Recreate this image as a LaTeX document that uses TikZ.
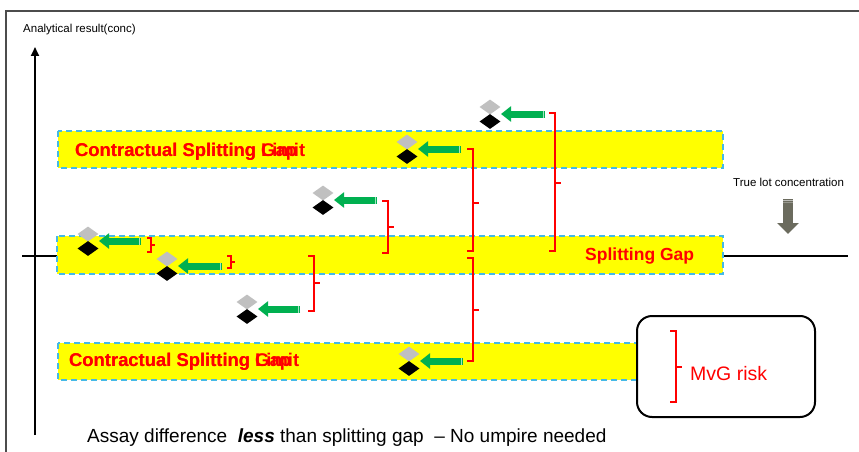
\documentclass[tikz,border=0pt]{standalone}
\usepackage{fontspec}
\setmainfont{Liberation Sans}
\usetikzlibrary{arrows.meta,shapes.geometric}
\definecolor{bandyellow}{HTML}{FFFF00}
\definecolor{bandblue}{HTML}{45B9E6}
\definecolor{arrgreen}{HTML}{00B050}
\definecolor{diagray}{HTML}{C0C0C0}
\definecolor{truegray}{HTML}{6B6B5E}
\definecolor{brred}{HTML}{FF0000}
\newcommand\redbracket[5]{%
  \draw[bracketline] (#1-#5,#2) -- (#1,#2) -- (#1,#3) -- (#1-#5,#3) (#1,#4) -- (#1+#5,#4);}
\begin{document}
\begin{tikzpicture}[x=1pt,y=-1pt,
  band/.style={fill=bandyellow, draw=bandblue, line width=1.3pt, dash pattern=on 6pt off 4pt},
  redtxt/.style={text=brred, font=\bfseries\fontsize{18.4}{20}\selectfont, anchor=base west, inner sep=0pt},
  smalltxt/.style={text=black, font=\fontsize{11.5}{13}\selectfont, anchor=base west, inner sep=0pt},
  graydia/.style={diamond, fill=diagray, minimum width=21pt, minimum height=15pt, inner sep=0pt},
  blackdia/.style={diamond, fill=black, minimum width=21pt, minimum height=15pt, inner sep=0pt},
  greenarr/.style={draw=arrgreen, line width=7pt, -{Triangle[length=10pt,width=15pt]}},
  bracketline/.style={draw=brred, line width=2.8pt},
  axisline/.style={draw=black, line width=2.2pt}
]
\useasboundingbox (0,0) rectangle (859,452);
% frame
\draw[line width=1.2pt, black!70] (6,452) -- (6,11) -- (859,11);
% axes
\coordinate (yb) at (35,435);
\coordinate (yt) at (35,47);
\draw[axisline, -{Triangle[length=9pt,width=8pt]}] (yb) -- (yt);
\coordinate (xl) at (22,256);
\coordinate (xr) at (848,256);
\draw[axisline] (xl) -- (xr);
\node[smalltxt] (ylab) at (23,33) {Analytical result(conc)};
% bands
\path[band] (58,131) rectangle (723,168);
\path[band] (57,236) rectangle (723,274);
\path[band] (58,343) rectangle (637,380);
% band texts
\node[redtxt] (lim1) at (75,156) {Contractual Splitting Limit};
\node[redtxt] (gap1) at (75,156) {Contractual Splitting Gap};
\node[redtxt] (lim2) at (69,366) {Contractual Splitting Limit};
\node[redtxt] (gap2) at (69,366) {Contractual Splitting Gap};
\node[redtxt, font=\bfseries\fontsize{17.5}{20}\selectfont] (sg) at (585,260) {Splitting Gap};
% true lot concentration
\node[smalltxt] (tlc) at (733,186) {True lot concentration};
\coordinate (ta) at (788,199);
\coordinate (tb) at (788,234);
\draw[truegray, line width=10pt, -{Triangle[length=11pt,width=21pt]}] (ta) -- (tb);
\draw[truegray!45, line width=0.8pt] (783,200.2) -- (793,200.2);
\draw[truegray!70, line width=0.8pt] (783,202.6) -- (793,202.6);
% markers
\foreach \n/\x/\j/\t in {A/88/241/141, B/167/266/222, C/323/200/377, D/247/309/300, E/407/149/461, F/490/114/545, G/409/361/463}{
  \node[graydia] (g\n) at (\x,\j-7) {};
  \node[blackdia] (b\n) at (\x,\j+7.5) {};
  \coordinate (t\n) at (\t,\j);
  \coordinate (p\n) at (\x+11,\j);
  \draw[greenarr] (t\n) -- (p\n);
  \draw[arrgreen!35, line width=1.2pt] (\t-1.5,\j-3.5) -- (\t-1.5,\j+3.5);
}
% brackets
\redbracket{151}{238}{252}{245}{4}
\redbracket{231}{256}{268}{262}{4}
\redbracket{388}{201}{253}{227}{6}
\redbracket{314}{256}{311}{283}{6}
\redbracket{473}{149}{251}{203}{6}
\redbracket{555}{113}{251}{183}{6}
\redbracket{473}{258}{361}{310}{6}
% MvG box
\draw[line width=2pt, fill=white, rounded corners=15pt] (637,316) rectangle (815,417);
\redbracket{676}{331}{402}{367}{6}
\node[anchor=base west, inner sep=0pt, text=brred, font=\fontsize{19.5}{22}\selectfont] (mvg) at (690,380) {MvG risk};
% bottom text
\node[anchor=base west, inner sep=0pt, font=\fontsize{19}{21}\selectfont] (note) at (87,442) {Assay difference\ \ \textbf{\textit{less}} than splitting gap\ \ – No umpire needed};
\end{tikzpicture}
\end{document}
